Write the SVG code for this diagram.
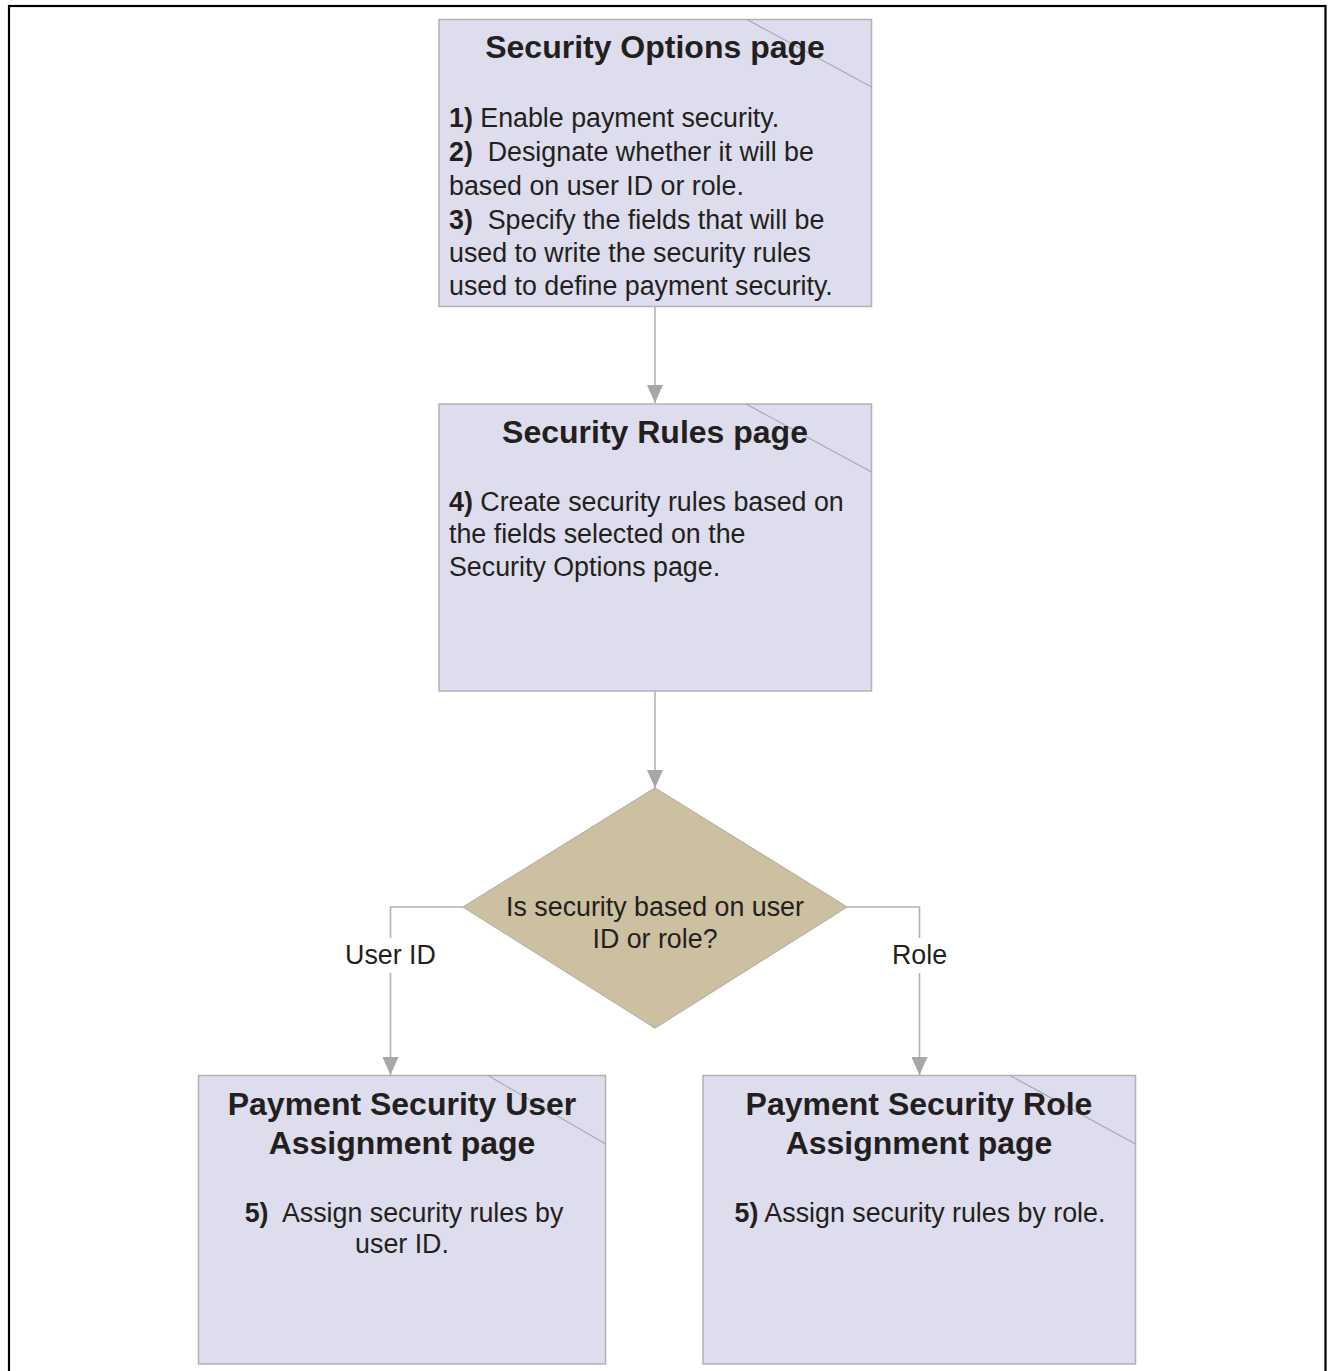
<svg xmlns="http://www.w3.org/2000/svg" width="1328" height="1371" viewBox="0 0 1328 1371">
<style>
.box{fill:#dddded;stroke:#b1b1b9;stroke-width:1.5}
.dia{fill:#ccc0a0;stroke:#b8b3a6;stroke-width:1.2}
.diag{stroke:#a9a9b3;stroke-width:1.2;fill:none}
.conn{stroke:#b3b3b3;stroke-width:1.6;fill:none}
.t{font-family:"Liberation Sans",Arial,sans-serif;fill:#231f20}
.title{font-size:32px;font-weight:bold}
.body{font-size:26.8px}
.b{font-weight:bold}
</style>
<defs>
<marker id="arr" markerUnits="userSpaceOnUse" markerWidth="18" markerHeight="16" refX="18" refY="8" orient="auto">
<path d="M0,0 L18,8 L0,16 z" fill="#a7a7a9"/>
</marker>
</defs>
<rect x="9" y="6" width="1316.5" height="1400" fill="none" stroke="#000" stroke-width="2.2"/>

<g id="connectors">
<line class="conn" x1="655" y1="307" x2="655" y2="403" marker-end="url(#arr)"/>
<line class="conn" x1="655" y1="691" x2="655" y2="788" marker-end="url(#arr)"/>
<polyline class="conn" points="463,907 390.5,907 390.5,1075" marker-end="url(#arr)"/>
<polyline class="conn" points="847,907 919.5,907 919.5,1075" marker-end="url(#arr)"/>
<rect x="343" y="938" width="95" height="35" fill="#fff"/>
<rect x="888" y="938" width="63" height="35" fill="#fff"/>
<text class="t body" x="390.5" y="964" text-anchor="middle">User ID</text>
<text class="t body" x="919.5" y="964" text-anchor="middle">Role</text>
</g>

<g id="security-options">
<rect class="box" x="439" y="19.5" width="432.5" height="287"/>
<line class="diag" x1="747" y1="19.5" x2="871.5" y2="87"/>
<text class="t title" x="655" y="58" text-anchor="middle">Security Options page</text>
<text class="t body" x="449" y="127" xml:space="preserve"><tspan class="b">1)</tspan> Enable payment security.</text>
<text class="t body" x="449" y="161" xml:space="preserve"><tspan class="b">2)</tspan>  Designate whether it will be</text>
<text class="t body" x="449" y="195">based on user ID or role.</text>
<text class="t body" x="449" y="229" xml:space="preserve"><tspan class="b">3)</tspan>  Specify the fields that will be</text>
<text class="t body" x="449" y="262">used to write the security rules</text>
<text class="t body" x="449" y="295">used to define payment security.</text>
</g>

<g id="security-rules">
<rect class="box" x="439" y="404" width="432.5" height="287"/>
<line class="diag" x1="746" y1="404" x2="871.5" y2="472"/>
<text class="t title" x="655" y="443" text-anchor="middle">Security Rules page</text>
<text class="t body" x="449" y="511" xml:space="preserve"><tspan class="b">4)</tspan> Create security rules based on</text>
<text class="t body" x="449" y="543">the fields selected on the</text>
<text class="t body" x="449" y="576">Security Options page.</text>
</g>

<g id="decision">
<polygon class="dia" points="655,788 847,907 655,1028 463,907"/>
<text class="t body" x="655" y="916" text-anchor="middle">Is security based on user</text>
<text class="t body" x="655" y="948" text-anchor="middle">ID or role?</text>
</g>

<g id="user-assignment">
<rect class="box" x="198.5" y="1075.5" width="407" height="288.5"/>
<line class="diag" x1="488" y1="1075.5" x2="605.5" y2="1144"/>
<text class="t title" x="402" y="1115" text-anchor="middle">Payment Security User</text>
<text class="t title" x="402" y="1154" text-anchor="middle">Assignment page</text>
<text class="t body" x="404" y="1222" text-anchor="middle" xml:space="preserve"><tspan class="b">5)</tspan>  Assign security rules by</text>
<text class="t body" x="402" y="1253" text-anchor="middle">user ID.</text>
</g>

<g id="role-assignment">
<rect class="box" x="703" y="1075.5" width="432.5" height="288.5"/>
<line class="diag" x1="1010" y1="1075.5" x2="1135.5" y2="1144"/>
<text class="t title" x="919" y="1115" text-anchor="middle">Payment Security Role</text>
<text class="t title" x="919" y="1154" text-anchor="middle">Assignment page</text>
<text class="t body" x="920" y="1222" text-anchor="middle" xml:space="preserve"><tspan class="b">5)</tspan> Assign security rules by role.</text>
</g>
</svg>
